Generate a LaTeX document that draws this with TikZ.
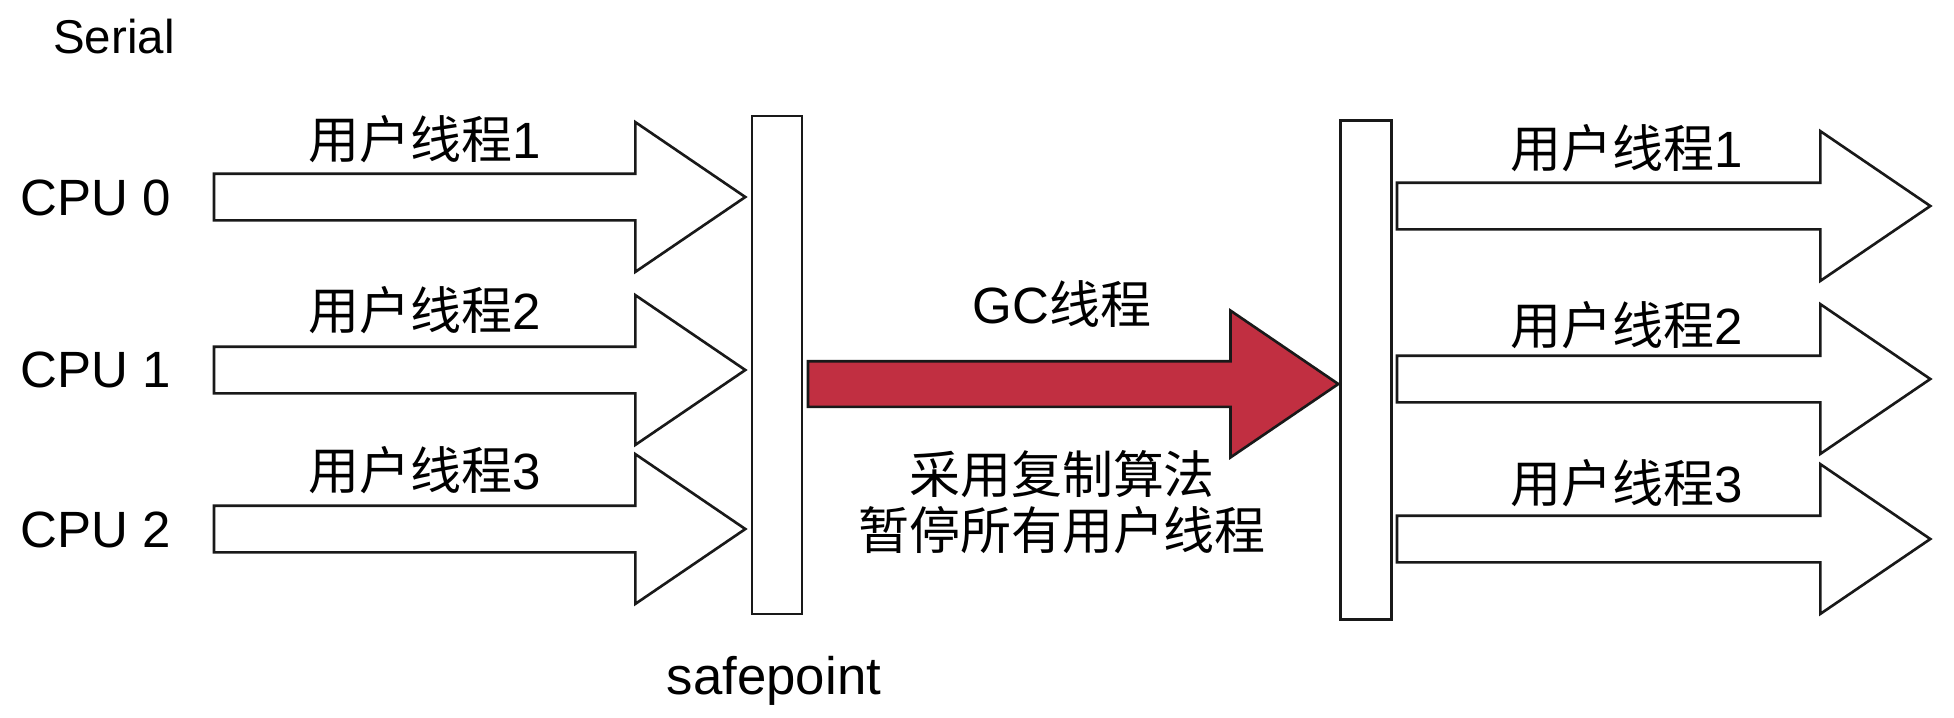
\documentclass[tikz,border=0pt]{standalone}
\usepackage{fontspec}
\setmainfont{Liberation Sans}
\newfontfamily\cjk{Noto Sans CJK SC}
\usetikzlibrary{shapes.arrows}
\definecolor{gcred}{RGB}{193,47,65}

\begin{document}
\begin{tikzpicture}[%
					x=0.01cm, y=-0.01cm,
					blockarrow/.style={%
						draw=black!90,
						line width=0.75pt,
						fill=white,
						single arrow,
						single arrow tip angle=68.5,
						single arrow head extend=0.515cm,
						minimum height=5.31cm,
						inner xsep=0pt,
						inner ysep=0.22cm,
						outer sep=0pt,
						anchor=tail
					},
					bar/.style={%
						draw=black!90,
						line width=0.75pt,
						fill=white,
						rectangle,
						minimum width=0.5cm,
						minimum height=4.98cm,
						inner sep=0pt
					},
					lbl/.style={%
						font=\fontsize{14.5}{17}\selectfont,
						inner sep=0pt
					}
				]

				\useasboundingbox (0, 0) rectangle (1954, 717);

				\node (serial) [lbl, font=\fontsize{13.5}{16}\selectfont] at (114, 37) {Serial};

				\node (cpu0) [lbl] at (96, 198) {CPU 0};
				\node (cpu1) [lbl] at (96, 370) {CPU 1};
				\node (cpu2) [lbl] at (96, 530) {CPU 2};

				\node (ut0) [blockarrow] at (214, 197) {};
				\node (ut1) [blockarrow] at (214, 370) {};
				\node (ut2) [blockarrow] at (214, 529) {};

				\node (ut0label) [lbl] at (425, 139) {{\cjk 用户线程}1};
				\node (ut1label) [lbl] at (425, 310) {{\cjk 用户线程}2};
				\node (ut2label) [lbl] at (425, 470) {{\cjk 用户线程}3};

				\node (safepoint) [bar] at (777, 365) {};
				\node (safepointlabel) [lbl, font=\fontsize{15}{18}\selectfont] at (774, 681) {safepoint};

				\node (gc) [blockarrow, fill=gcred, minimum height=5.30cm,
					inner ysep=0.215cm, single arrow head extend=0.505cm] at (808, 384) {};
				\node (gclabel) [lbl] at (1062, 304) {GC{\cjk 线程}};
				\node (gcnote) [lbl, align=center] at (1062, 502) {%
					{\cjk 采用复制算法}\\[-1pt]
					{\cjk 暂停所有用户线程}
				};

				\node (resume) [bar, minimum width=0.51cm, minimum height=4.99cm] at (1366, 370) {};

				\node (rt0) [blockarrow, minimum height=5.33cm] at (1397, 206) {};
				\node (rt1) [blockarrow, minimum height=5.33cm] at (1397, 379) {};
				\node (rt2) [blockarrow, minimum height=5.33cm] at (1397, 539) {};

				\node (rt0label) [lbl] at (1627, 148) {{\cjk 用户线程}1};
				\node (rt1label) [lbl] at (1627, 325) {{\cjk 用户线程}2};
				\node (rt2label) [lbl] at (1627, 483) {{\cjk 用户线程}3};

				% \node (cursor) at (249, 486) {};
			\end{tikzpicture}
\end{document}
